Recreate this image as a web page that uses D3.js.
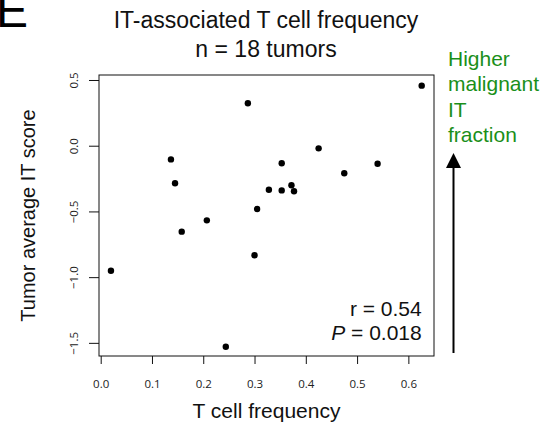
<!DOCTYPE html>
<html>
<head>
<meta charset="utf-8">
<script src="https://cdn.jsdelivr.net/npm/d3@7"></script>
<style>
  body { margin: 0; background: #fff; }
  text { font-family: "Liberation Sans", Arial, sans-serif; }
</style>
</head>
<body>
<script>
// T cell frequency (x) vs tumor average IT score (y), one point per tumor
const tCellFreq = [0.020, 0.137, 0.145, 0.158, 0.207, 0.244, 0.287, 0.300, 0.305,
                   0.328, 0.353, 0.353, 0.372, 0.377, 0.425, 0.475, 0.540, 0.626];
const itScore   = [-0.951, -0.104, -0.286, -0.654, -0.568, -1.530, 0.323, -0.834, -0.482,
                   -0.335, -0.134, -0.340, -0.301, -0.347, -0.020, -0.210, -0.137, 0.457];
const xTicks = [0.0, 0.1, 0.2, 0.3, 0.4, 0.5, 0.6];
const yTicks = [0.5, 0.0, -0.5, -1.0, -1.5];
const noteLines = ["Higher", "malignant", "IT", "fraction"];

const W = 558, H = 427;
const margin = {top: 75, left: 99, right: 124, bottom: 71};
const width = W - margin.left - margin.right;
const height = H - margin.top - margin.bottom;

const svg = d3.select("body").append("svg")
  .attr("width", W).attr("height", H);

const g = svg.append("g")
  .attr("transform", `translate(${margin.left},${margin.top})`);

const x = d3.scaleLinear().domain([-0.0033, 0.650]).range([0, width]);
const y = d3.scaleLinear().domain([-1.600, 0.538]).range([height, 0]);

// axes, R style
const xAxis = g.append("g")
  .attr("transform", `translate(0,${height})`)
  .call(d3.axisBottom(x).tickValues(xTicks).tickFormat(d3.format(".1f")).tickSize(8));
const yAxis = g.append("g")
  .call(d3.axisLeft(y).tickValues(yTicks).tickFormat(d => d3.format(".1f")(d).replace("-", "\u2212")).tickSize(10));

[xAxis, yAxis].forEach(a => {
  a.select(".domain").remove();
  a.selectAll(".tick line").attr("stroke", "#111").attr("stroke-width", 1);
  a.selectAll(".tick text")
    .style("font-family", "'Open Sans', 'DejaVu Sans', sans-serif")
    .style("font-size", "11.5px").attr("fill", "#222");
});
xAxis.selectAll(".tick text").attr("y", 32).attr("dy", "0");
yAxis.selectAll(".tick text")
  .attr("x", 0).attr("y", 0).attr("dy", 0)
  .attr("text-anchor", "middle")
  .attr("transform", "translate(-21,0) rotate(-90)");

// box
g.append("rect")
  .attr("width", width).attr("height", height)
  .attr("fill", "none").attr("stroke", "#111").attr("stroke-width", 1);

// points
g.selectAll("circle.pt")
  .data(tCellFreq)
  .enter().append("circle")
    .attr("class", "pt")
    .attr("cx", d => x(d))
    .attr("cy", (d, i) => y(itScore[i]))
    .attr("r", 3.2)
    .attr("fill", "#000");

// stats
g.append("text")
  .attr("x", x(0.626)).attr("y", y(-1.292))
  .attr("text-anchor", "end").style("font-size", "21px").attr("fill", "#111")
  .text("r = 0.54");
const ptxt = g.append("text")
  .attr("x", x(0.626)).attr("y", y(-1.475))
  .attr("text-anchor", "end").style("font-size", "21px").attr("fill", "#111");
ptxt.append("tspan").style("font-style", "italic").text("P");
ptxt.append("tspan").text(" = 0.018");

// titles
svg.append("text")
  .attr("x", 266).attr("y", 28).attr("text-anchor", "middle")
  .style("font-size", "23px").attr("fill", "#111")
  .text("IT-associated T cell frequency");
svg.append("text")
  .attr("x", 266).attr("y", 57).attr("text-anchor", "middle")
  .style("font-size", "23px").attr("fill", "#111")
  .text("n = 18 tumors");

svg.append("text")
  .attr("x", margin.left + width / 2).attr("y", 418).attr("text-anchor", "middle")
  .style("font-size", "21px").attr("fill", "#111")
  .text("T cell frequency");
svg.append("text")
  .attr("transform", `translate(35,${margin.top + height / 2}) rotate(-90)`)
  .attr("text-anchor", "middle")
  .style("font-size", "20px").attr("fill", "#111")
  .text("Tumor average IT score");

// panel letter (cropped at the top, as in the source figure)
svg.append("text")
  .attr("x", -4).attr("y", 27)
  .style("font-size", "48px").attr("fill", "#000")
  .text("E");

// right annotation
svg.append("g").selectAll("text")
  .data(noteLines)
  .enter().append("text")
    .attr("x", 448)
    .attr("y", (d, i) => 66 + i * 25.3)
    .style("font-size", "21px").attr("fill", "#1a8f1a")
    .text(d => d);

svg.append("line")
  .attr("x1", 453.5).attr("x2", 453.5)
  .attr("y1", 353).attr("y2", 166)
  .attr("stroke", "#000").attr("stroke-width", 2);
svg.append("path")
  .attr("d", "M453.5,153 L446,168 L461,168 Z")
  .attr("fill", "#000");
</script>
</body>
</html>
